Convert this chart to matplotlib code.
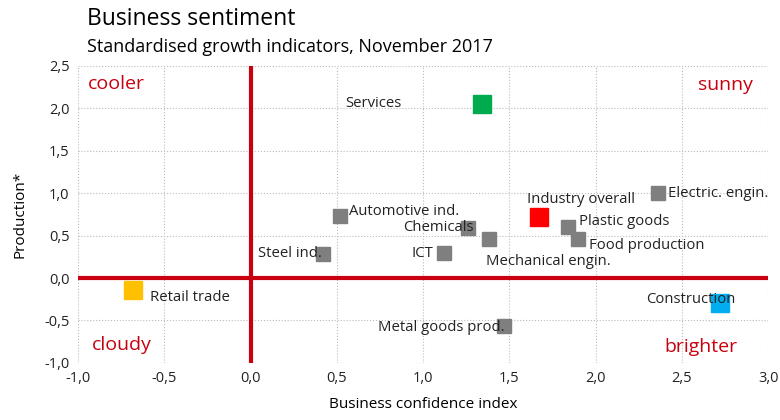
import matplotlib
matplotlib.use("Agg")
import matplotlib.pyplot as plt
from matplotlib.ticker import FuncFormatter

plt.rcParams["font.family"] = ["Open Sans", "DejaVu Sans"]

sectors = ["Services", "Retail trade", "Construction", "Industry overall",
           "Electric. engin.", "Automotive ind.", "Chemicals", "Mechanical engin.",
           "Plastic goods", "Food production", "Steel ind.", "ICT", "Metal goods prod."]
confidence = [1.34, -0.68, 2.72, 1.67, 2.36, 0.52, 1.26, 1.38, 1.84, 1.90, 0.42, 1.12, 1.47]
production = [2.05, -0.14, -0.29, 0.72, 1.00, 0.73, 0.59, 0.46, 0.60, 0.46, 0.28, 0.29, -0.57]
colors = ["#00AA4F", "#FFC000", "#00ADEF", "#FF0000"] + ["#7F7F7F"] * 9
sizes = [12.5, 12.5, 12.5, 12.5] + [9.5] * 9

# label placement: (dx, dy) in pixels, horizontal alignment
label_pos = [(-80, 1, "right"), (17, -8, "left"), (-74, 3, "left"), (-12, 17, "left"),
             (10, 0, "left"), (9, 5, "left"), (6, 0, "right"), (-3, -22, "left"),
             (11, 6, "left"), (11, -6, "left"), (-1, 1, "right"), (-11, 0, "right"),
             (0, -1, "right")]

red = "#C8000F"
fig = plt.figure(figsize=(7.8, 4.2), dpi=100)
ax = fig.add_axes([0.1, 0.136, 0.885, 0.707])
ax.set_xlim(-1, 3)
ax.set_ylim(-1, 2.5)
ax.set_xticks([-1, -0.5, 0, 0.5, 1, 1.5, 2, 2.5, 3])
ax.set_yticks([-1, -0.5, 0, 0.5, 1, 1.5, 2, 2.5])
fmt = FuncFormatter(lambda v, p: f"{v:.1f}".replace(".", ","))
ax.xaxis.set_major_formatter(fmt)
ax.yaxis.set_major_formatter(fmt)
ax.tick_params(length=0, labelsize=10.5, colors="#222222", pad=6)
ax.grid(True, color="#BBBBBB", linestyle=":", linewidth=0.8)
for s in ax.spines.values():
    s.set_visible(False)
ax.axhline(0, color=red, lw=3, zorder=2)
ax.axvline(0, color=red, lw=3, zorder=2)

for i, name in enumerate(sectors):
    ax.plot(confidence[i], production[i], marker="s", ms=sizes[i], color=colors[i],
            ls="none", zorder=3)
    dx, dy, ha = label_pos[i]
    ax.annotate(name, (confidence[i], production[i]), xytext=(dx, dy),
                textcoords="offset pixels", ha=ha, va="center", fontsize=10.7,
                color="#222222", zorder=4)

ax.text(0.014, 0.94, "cooler", transform=ax.transAxes, color=red, fontsize=14, va="center")
ax.text(0.977, 0.935, "sunny", transform=ax.transAxes, color=red, fontsize=14, va="center", ha="right")
ax.text(0.02, 0.06, "cloudy", transform=ax.transAxes, color=red, fontsize=14, va="center")
ax.text(0.955, 0.055, "brighter", transform=ax.transAxes, color=red, fontsize=14, va="center", ha="right")

ax.set_xlabel("Business confidence index", fontsize=11, labelpad=8)
ax.set_ylabel("Production*", fontsize=11, labelpad=12)
fig.text(0.112, 0.955, "Business sentiment", fontsize=16.5, va="center")
fig.text(0.112, 0.888, "Standardised growth indicators, November 2017", fontsize=13, va="center")

fig.savefig("out.png", dpi=100)
